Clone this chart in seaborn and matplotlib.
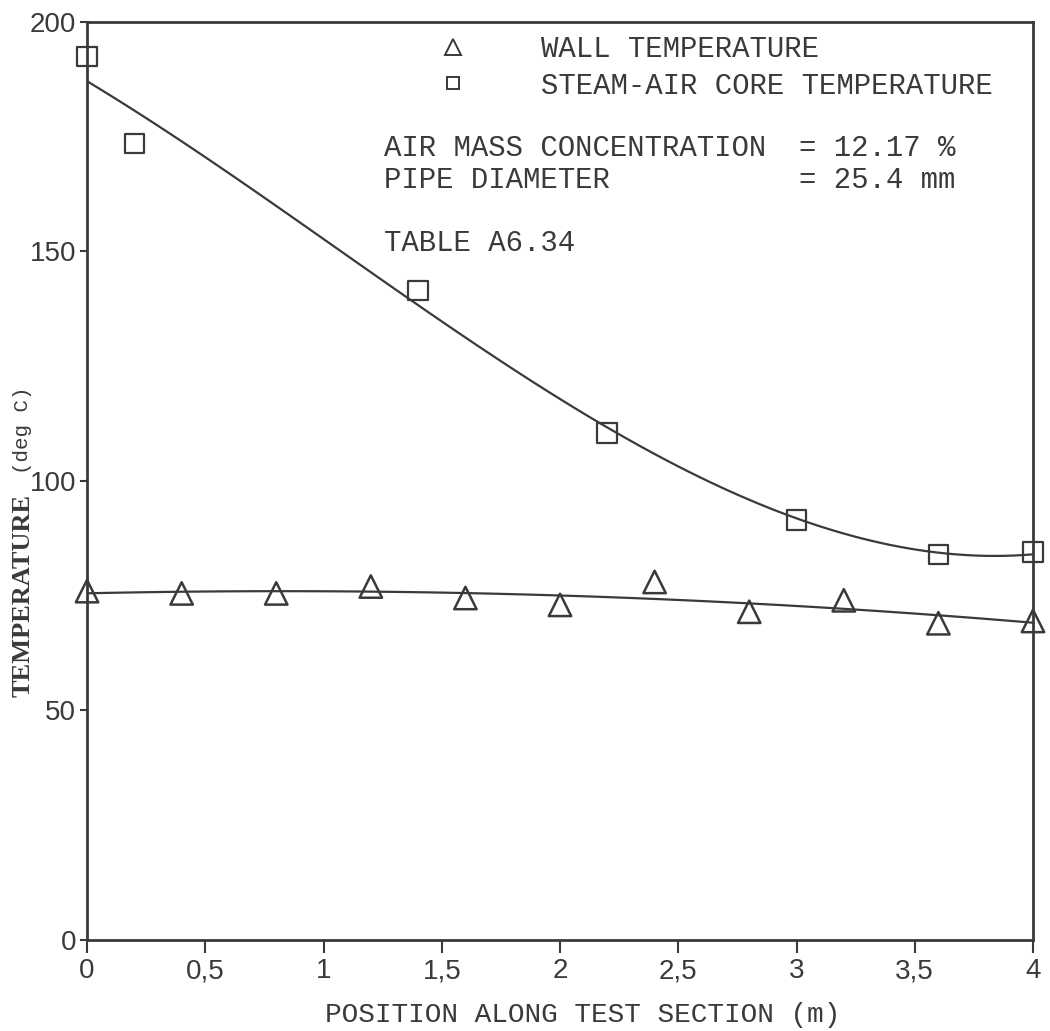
import numpy as np
import pandas as pd
import seaborn as sns
import matplotlib
matplotlib.use("Agg")
import matplotlib.pyplot as plt
from matplotlib.lines import Line2D

# Measured temperatures along the test section
position_wall = [0.0, 0.4, 0.8, 1.2, 1.6, 2.0, 2.4, 2.8, 3.2, 3.6, 4.0]
wall_temp = [76.0, 75.5, 75.5, 77.0, 74.5, 73.0, 78.0, 71.5, 74.0, 69.0, 69.5]

position_core = [0.0, 0.2, 1.4, 2.2, 3.0, 3.6, 4.0]
core_temp = [192.5, 173.5, 141.5, 110.5, 91.5, 84.0, 84.5]

x_ticks = [0, 0.5, 1, 1.5, 2, 2.5, 3, 3.5, 4]
x_tick_labels = ["0", "0,5", "1", "1,5", "2", "2,5", "3", "3,5", "4"]
y_ticks = [0, 50, 100, 150, 200]
y_tick_labels = ["0", "50", "100", "150", "200"]

wall_label = "WALL TEMPERATURE"
core_label = "STEAM-AIR CORE TEMPERATURE"

wall = pd.DataFrame({"x": position_wall, "t": wall_temp})
core = pd.DataFrame({"x": position_core, "t": core_temp})

sns.set_theme(style="white")
plt.rcParams["font.family"] = ["DejaVu Sans"]

ink = "#3a3a3a"
mono = ["Liberation Mono", "DejaVu Sans Mono"]
narrow = ["Liberation Sans Narrow", "Liberation Sans", "DejaVu Sans"]

fig = plt.figure(figsize=(10.5, 10.31), dpi=100)
ax = fig.add_axes([0.0829, 0.0883, 0.9009, 0.8904])

# Fitted curves
sns.regplot(data=core, x="x", y="t", order=3, ci=None, scatter=False,
            line_kws={"color": ink, "lw": 1.6}, ax=ax)
sns.regplot(data=wall, x="x", y="t", order=2, ci=None, scatter=False,
            line_kws={"color": ink, "lw": 1.6}, ax=ax)

# Measured points
sns.scatterplot(data=core, x="x", y="t", marker="s", s=200, facecolors="none",
                edgecolors=ink, linewidths=1.6, ax=ax, clip_on=False, zorder=5)
sns.scatterplot(data=wall, x="x", y="t", marker="^", s=260, facecolors="none",
                edgecolors=ink, linewidths=1.8, ax=ax, clip_on=False, zorder=5)

ax.set_xlim(0, 4)
ax.set_ylim(0, 200)
ax.set_xticks(x_ticks)
ax.set_xticklabels(x_tick_labels, family=narrow, fontsize=20, color=ink)
ax.set_yticks(y_ticks)
ax.set_yticklabels(y_tick_labels, family=narrow, fontsize=20, color=ink)
ax.tick_params(axis="x", direction="out", length=9, width=1.5, color=ink, pad=4, bottom=True)
ax.tick_params(axis="y", direction="out", length=5, width=1.5, color=ink, pad=3, left=True)
for sp in ax.spines.values():
    sp.set_color(ink)
    sp.set_linewidth(2)
    sp.set_visible(True)

ax.set_xlabel("POSITION ALONG TEST SECTION (m)", family=mono, fontsize=20,
              color=ink, labelpad=13)
ax.xaxis.label.set_x(0.524)
ax.set_ylabel("")
ax.text(-0.068, 75, "TEMPERATURE", rotation=90, ha="center", va="center",
        transform=ax.get_yaxis_transform(), family=["Liberation Serif", "DejaVu Serif"],
        fontweight="bold", fontsize=19, color=ink)
ax.text(-0.068, 111, "(deg C)", rotation=90, ha="center", va="center",
        transform=ax.get_yaxis_transform(), family=mono, fontsize=15, color=ink)

# Key
handles = [
    Line2D([], [], marker="^", ls="none", mfc="none", mec=ink, mew=1.4, ms=11),
    Line2D([], [], marker="s", ls="none", mfc="none", mec=ink, mew=1.4, ms=9),
]
leg = ax.legend(handles, [wall_label, core_label], loc="upper left",
                bbox_to_anchor=(0.371, 0.986), frameon=False,
                prop={"family": mono, "size": 20.9}, handlelength=1.0,
                handletextpad=2.55, labelspacing=0.3, borderpad=0, borderaxespad=0)
for t in leg.get_texts():
    t.set_color(ink)

txt = dict(transform=ax.transAxes, family=mono, fontsize=20.9, color=ink, va="center")
ax.text(0.314, 0.863, "AIR MASS CONCENTRATION", **txt)
ax.text(0.753, 0.863, "= 12.17 %", **txt)
ax.text(0.314, 0.828, "PIPE DIAMETER", **txt)
ax.text(0.753, 0.828, "= 25.4 mm", **txt)
ax.text(0.314, 0.759, "TABLE A6.34", **txt)

fig.savefig("out.png", dpi=100, facecolor="white")
